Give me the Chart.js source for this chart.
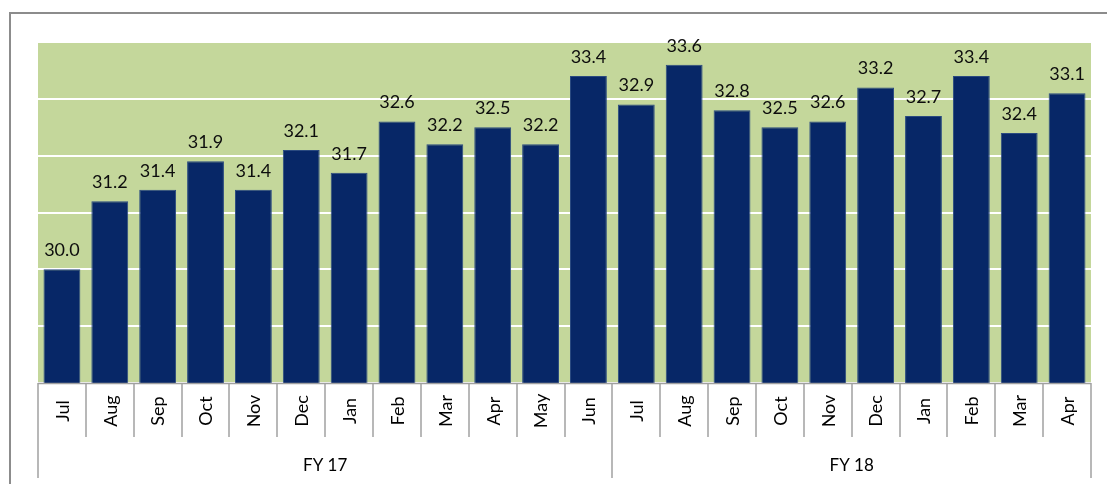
<!DOCTYPE html>
<html>
<head>
<meta charset="utf-8">
<script src="https://cdn.jsdelivr.net/npm/chart.js@4/dist/chart.umd.min.js"></script>
<style>
  html, body { margin: 0; padding: 0; background: #fff; }
  #wrap { width: 1107px; height: 484px; position: relative; }
</style>
</head>
<body>
<div id="wrap"><canvas id="grafica" width="1107" height="484"></canvas></div>
<script>
// datos
const meses = ['Jul','Aug','Sep','Oct','Nov','Dec','Jan','Feb','Mar','Apr','May','Jun',
               'Jul','Aug','Sep','Oct','Nov','Dec','Jan','Feb','Mar','Apr'];
const valores = [30.0, 31.2, 31.4, 31.9, 31.4, 32.1, 31.7, 32.6, 32.2, 32.5, 32.2, 33.4,
                 32.9, 33.6, 32.8, 32.5, 32.6, 33.2, 32.7, 33.4, 32.4, 33.1];
const grupos = ['FY 17', 'FY 18'];
const mesesPorGrupo = [12, 10];

const fuente = 'Lato, "Open Sans", sans-serif';

// fondo verde del area de trazado + borde exterior
const fondo = {
    id: 'fondo',
    beforeDraw(chart){
        const {ctx, chartArea: a} = chart;
        ctx.save();
        ctx.fillStyle = '#c4d79b';
        ctx.fillRect(a.left, a.top, a.right - a.left, a.bottom - a.top);
        ctx.strokeStyle = '#8c8c8c';
        ctx.lineWidth = 2;
        ctx.strokeRect(10, 13, 1200, 600); //el borde sale de la imagen
        ctx.restore();
    }
};

// etiquetas de valor encima de cada barra
const etiquetas = {
    id: 'etiquetas',
    afterDatasetsDraw(chart){
        const ctx = chart.ctx;
        const meta = chart.getDatasetMeta(0);
        ctx.save();
        ctx.font = '18px ' + fuente;
        ctx.fillStyle = '#0d0d0d';
        ctx.textAlign = 'center';
        ctx.textBaseline = 'bottom';
        meta.data.forEach((bar, i)=>{
            ctx.fillText(valores[i].toFixed(1), bar.x, bar.y - 10);
        });
        ctx.restore();
    }
};

// eje x de dos niveles (meses girados + años fiscales)
const ejeX = {
    id: 'ejeX',
    afterDraw(chart){
        const {ctx, chartArea: a} = chart;
        const x = chart.scales.x;
        const paso = (a.right - a.left) / meses.length;
        const y0 = a.bottom, y1 = a.bottom + 54, y2 = a.bottom + 95;
        ctx.save();
        ctx.strokeStyle = '#a0a0a0';
        ctx.lineWidth = 1.5;
        // linea de eje
        ctx.beginPath();
        ctx.moveTo(a.left, y0 + 0.5); ctx.lineTo(a.right, y0 + 0.5);
        ctx.stroke();
        // separadores de meses y grupos
        let limites = [0];
        mesesPorGrupo.reduce((t, n)=>{ limites.push(t + n); return t + n; }, 0);
        for(let i = 0; i <= meses.length; i++){
            const xx = Math.round(a.left + i * paso);
            const largo = limites.includes(i) ? y2 : y1;
            ctx.beginPath();
            ctx.moveTo(xx, y0); ctx.lineTo(xx, largo);
            ctx.stroke();
        }
        // nombres de meses
        ctx.fillStyle = '#000';
        ctx.font = '18px ' + fuente;
        ctx.textAlign = 'center';
        ctx.textBaseline = 'middle';
        meses.forEach((m, i)=>{
            const cx = x.getPixelForValue(i);
            ctx.save();
            ctx.translate(cx + 1, (y0 + y1) / 2 + 1);
            ctx.rotate(-Math.PI / 2);
            ctx.fillText(m, 0, 0);
            ctx.restore();
        });
        // años fiscales
        ctx.font = '17px ' + fuente;
        grupos.forEach((g, k)=>{
            const ini = a.left + limites[k] * paso;
            const fin = a.left + limites[k + 1] * paso;
            ctx.fillText(g, (ini + fin) / 2, y1 + 29);
        });
        ctx.restore();
    }
};

new Chart(document.getElementById('grafica').getContext('2d'), {
    type: 'bar',
    data: {
        labels: meses,
        datasets: [{
            data: valores,
            backgroundColor: '#072767',
            borderColor: '#2a4a80',
            borderWidth: 1,
            categoryPercentage: 1,
            barPercentage: 0.77
        }]
    },
    options: {
        responsive: false,
        animation: false,
        layout: { padding: { left: 38, top: 42, right: 16, bottom: 101 } },
        scales: {
            x: { display: false },
            y: {
                min: 28, max: 34,
                ticks: { display: false, stepSize: 1 },
                border: { display: false },
                grid: { color: '#ffffff', lineWidth: 2, drawTicks: false }
            }
        },
        plugins: { legend: { display: false }, tooltip: { enabled: false } }
    },
    plugins: [fondo, etiquetas, ejeX]
});
</script>
</body>
</html>
